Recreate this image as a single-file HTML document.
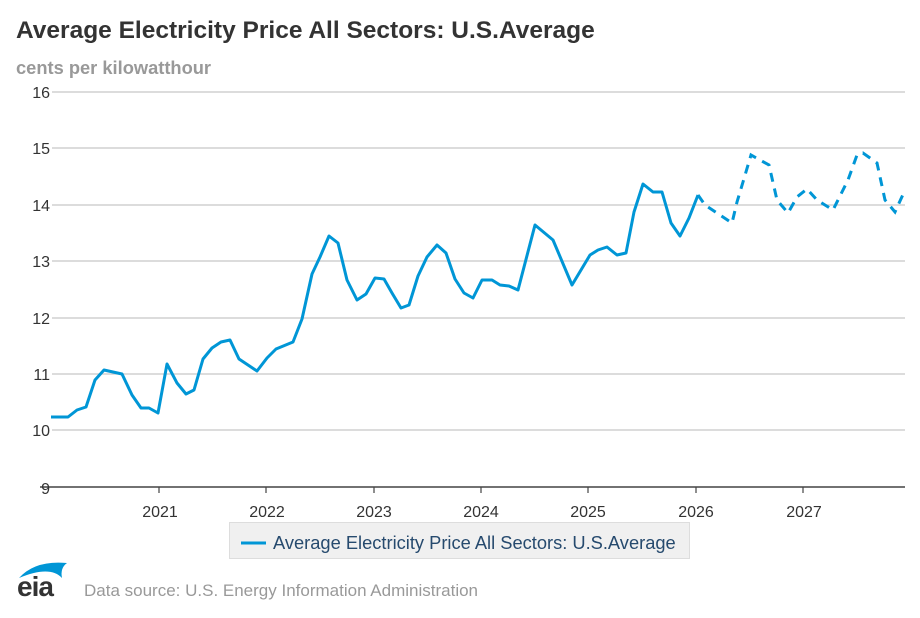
<!DOCTYPE html>
<html><head><style>
body{margin:0;background:#fff;width:920px;height:613px;overflow:hidden;font-family:"Liberation Sans",sans-serif}
</style></head><body>
<svg width="920" height="613" xmlns="http://www.w3.org/2000/svg" font-family="Liberation Sans, sans-serif">
<text x="16" y="38" font-size="24.5" font-weight="bold" fill="#333">Average Electricity Price All Sectors: U.S.Average</text>
<text x="16" y="74" font-size="18.3" font-weight="bold" fill="#999">cents per kilowatthour</text>
<g stroke="#c8c8c8" stroke-width="1.2">
<line x1="52" x2="905" y1="92" y2="92"/><line x1="52" x2="905" y1="148" y2="148"/><line x1="52" x2="905" y1="205" y2="205"/><line x1="52" x2="905" y1="261" y2="261"/><line x1="52" x2="905" y1="318" y2="318"/><line x1="52" x2="905" y1="374" y2="374"/><line x1="52" x2="905" y1="430" y2="430"/>
</g>
<line x1="40" x2="905" y1="487" y2="487" stroke="#444" stroke-width="1.5"/>
<g stroke="#444" stroke-width="1.2">
<line x1="159" x2="159" y1="487" y2="493"/><line x1="266" x2="266" y1="487" y2="493"/><line x1="374" x2="374" y1="487" y2="493"/><line x1="481" x2="481" y1="487" y2="493"/><line x1="588" x2="588" y1="487" y2="493"/><line x1="696" x2="696" y1="487" y2="493"/><line x1="803" x2="803" y1="487" y2="493"/>
</g>
<g font-size="16" fill="#333" text-anchor="end">
<text x="50" y="98">16</text><text x="50" y="154">15</text><text x="50" y="211">14</text><text x="50" y="267">13</text><text x="50" y="324">12</text><text x="50" y="380">11</text><text x="50" y="436">10</text><text x="50" y="494">9</text>
</g>
<g font-size="16" fill="#333" text-anchor="middle">
<text x="160" y="517">2021</text><text x="267" y="517">2022</text><text x="374" y="517">2023</text><text x="481" y="517">2024</text><text x="588" y="517">2025</text><text x="696" y="517">2026</text><text x="804" y="517">2027</text>
</g>
<polyline fill="none" stroke="#0096d6" stroke-width="3" stroke-linejoin="round" points="51,417 68,417 77,410 86,407 95,380 104,370 122,374 132,395 141,408 149,408 158,413 167,364 177,383 186,394 194,390 203,359 212,348 221,342 230,340 239,359 257,371 267,358 276,349 293,342 302,319 312,274 320,257 329,236 338,243 347,280 357,300 366,294 375,278 384,279 392,293 401,308 409,305 418,276 427,257 437,245 446,253 455,279 464,293 473,298 482,280 492,280 500,285 509,286 518,290 535,225 553,240 572,285 590,255 598,250 607,247 617,255 626,253 634,212 643,184 653,192 662,192 671,223 680,236 689,218 698,195"/>
<polyline fill="none" stroke="#0096d6" stroke-width="3" stroke-dasharray="9,7" points="698,195 705,205 732,223 737,202 743,182 751,155 769,165 777,200 788,213 797,197 807,189 817,200 833,210 848,180 857,155 863,153 877,163 885,200 895,212 905,190"/>
<rect x="229.5" y="522.5" width="460" height="36" fill="#f0f0f0" stroke="#ddd"/>
<line x1="241" x2="266" y1="543" y2="543" stroke="#0096d6" stroke-width="3"/>
<text x="273" y="549" font-size="18.3" fill="#264a6e">Average Electricity Price All Sectors: U.S.Average</text>
<path d="M19,578 Q35,560 67,563 Q60,568 62,578 Q50,565 19,578Z" fill="#0096d6"/>
<text x="17" y="596" font-size="28" font-weight="bold" fill="#333" letter-spacing="-1">eia</text>
<text x="84" y="596" font-size="17" fill="#999">Data source: U.S. Energy Information Administration</text>
</svg>
</body></html>
